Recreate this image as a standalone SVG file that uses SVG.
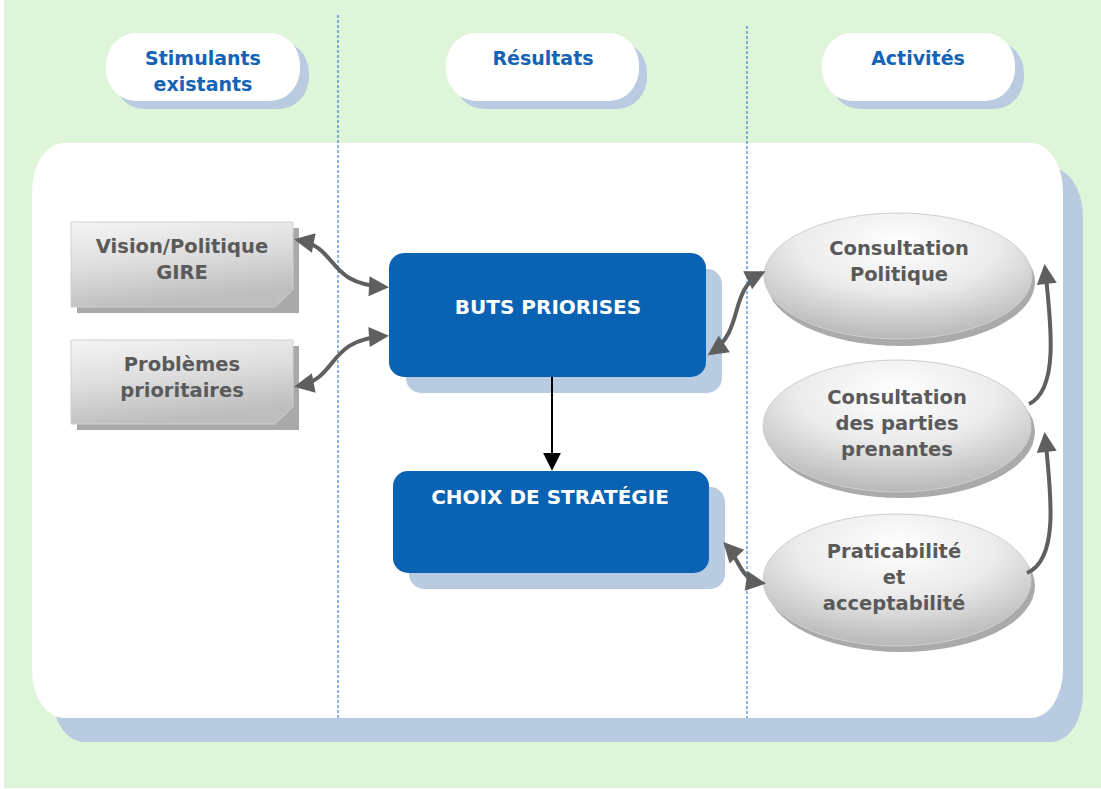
<svg xmlns="http://www.w3.org/2000/svg" width="1101" height="789" viewBox="0 0 1101 789">
<defs>
<linearGradient id="gbox" x1="0" y1="0" x2="0.3" y2="1">
<stop offset="0" stop-color="#f4f4f4"/><stop offset="0.5" stop-color="#dedede"/><stop offset="1" stop-color="#bdbdbd"/>
</linearGradient>
<radialGradient id="gell" cx="0.5" cy="0.25" r="0.75">
<stop offset="0" stop-color="#ffffff"/><stop offset="0.5" stop-color="#ebebeb"/><stop offset="1" stop-color="#b8b8b8"/>
</radialGradient>
<marker id="ah" viewBox="0 0 10 10" refX="8" refY="5" markerWidth="5.5" markerHeight="5" orient="auto-start-reverse" markerUnits="strokeWidth">
<path d="M0,0 L10,5 L0,10 Z" fill="#5f5f5f"/>
</marker>
<marker id="ahb" viewBox="0 0 10 10" refX="9" refY="5" markerWidth="9" markerHeight="9" orient="auto" markerUnits="strokeWidth">
<path d="M0,0 L10,5 L0,10 Z" fill="#000"/>
</marker>
<style>
.hdr{font-family:"DejaVu Sans","Liberation Sans",sans-serif;font-weight:bold;font-size:19px;fill:#1463b4;text-anchor:middle}
.gt{font-family:"DejaVu Sans","Liberation Sans",sans-serif;font-weight:bold;font-size:19.5px;fill:#5a5a5a;text-anchor:middle}
.wt{font-family:"DejaVu Sans","Liberation Sans",sans-serif;font-weight:bold;font-size:20px;fill:#ffffff;text-anchor:middle}
.shadow{fill:#b9cbe1}
.blue{fill:#0a62b3}
.dash{stroke:#1a68c8;stroke-width:1;stroke-dasharray:3,2;fill:none}
.con{stroke:#5f5f5f;stroke-width:4;fill:none}
</style>
</defs>
<rect x="0" y="0" width="1101" height="789" fill="#ffffff"/>
<rect x="4" y="0" width="1097" height="788" fill="#dff5da"/>
<!-- main panel -->
<rect x="52" y="168" width="1031" height="574" rx="32" ry="48" class="shadow"/>
<rect x="32" y="143" width="1031" height="575" rx="32" ry="48" fill="#ffffff"/>
<line x1="338" y1="15" x2="338" y2="718" class="dash"/>
<line x1="747" y1="26" x2="747" y2="718" class="dash"/>
<!-- headers -->
<g id="h1">
<rect x="114" y="41" width="195" height="68" rx="30" ry="32" class="shadow"/>
<rect x="106" y="33" width="194" height="68" rx="30" ry="32" fill="#fff"/>
<text class="hdr" x="203" y="65">Stimulants</text>
<text class="hdr" x="203" y="91">existants</text>
</g>
<g id="h2">
<rect x="454" y="41" width="193" height="68" rx="30" ry="32" class="shadow"/>
<rect x="446" y="33" width="193" height="68" rx="30" ry="32" fill="#fff"/>
<text class="hdr" x="543" y="65">Résultats</text>
</g>
<g id="h3">
<rect x="830" y="41" width="194" height="68" rx="30" ry="32" class="shadow"/>
<rect x="822" y="33" width="193" height="68" rx="30" ry="32" fill="#fff"/>
<text class="hdr" x="918" y="65">Activités</text>
</g>
<!-- left gray boxes -->
<g id="n1">
<path d="M77,228 H299 V313 H77 Z" fill="#a9a9a9"/>
<path d="M71,222 H293 V290 L275,307 H71 Z" fill="url(#gbox)" stroke="#d0d0d0" stroke-width="1"/>
<path d="M275,307 Q279,296 293,290 Q283,294 275,307 Z" fill="#e8e8e8" stroke="#bdbdbd" stroke-width="1"/>
<text class="gt" x="182" y="253">Vision/Politique</text>
<text class="gt" x="182" y="279">GIRE</text>
</g>
<g id="n2">
<path d="M77,346 H299 V430 H77 Z" fill="#a9a9a9"/>
<path d="M71,340 H293 V407 L275,424 H71 Z" fill="url(#gbox)" stroke="#d0d0d0" stroke-width="1"/>
<path d="M275,424 Q279,413 293,407 Q283,411 275,424 Z" fill="#e8e8e8" stroke="#bdbdbd" stroke-width="1"/>
<text class="gt" x="182" y="371">Problèmes</text>
<text class="gt" x="182" y="397">prioritaires</text>
</g>
<!-- blue boxes -->
<g id="n3">
<rect x="406" y="269" width="316" height="124" rx="15" class="shadow"/>
<rect x="389" y="253" width="317" height="124" rx="15" class="blue"/>
<text class="wt" x="548" y="314">BUTS PRIORISES</text>
</g>
<g id="n4">
<rect x="409" y="487" width="316" height="102" rx="15" class="shadow"/>
<rect x="393" y="471" width="316" height="102" rx="15" class="blue"/>
<text class="wt" x="550" y="504">CHOIX DE STRATÉGIE</text>
</g>
<!-- ellipses -->
<g id="n5">
<ellipse cx="901" cy="282" rx="134" ry="64" fill="#aaaaaa"/>
<ellipse cx="898" cy="276" rx="134" ry="63" fill="url(#gell)" stroke="#cfcfcf" stroke-width="1"/>
<text class="gt" x="899" y="255">Consultation</text>
<text class="gt" x="899" y="281">Politique</text>
</g>
<g id="n6">
<ellipse cx="901" cy="432" rx="134" ry="66" fill="#aaaaaa"/>
<ellipse cx="897" cy="426" rx="134" ry="66" fill="url(#gell)" stroke="#cfcfcf" stroke-width="1"/>
<text class="gt" x="897" y="404">Consultation</text>
<text class="gt" x="897" y="430">des parties</text>
<text class="gt" x="897" y="456">prenantes</text>
</g>
<g id="n7">
<ellipse cx="901" cy="586" rx="134" ry="66" fill="#aaaaaa"/>
<ellipse cx="897" cy="580" rx="134" ry="66" fill="url(#gell)" stroke="#cfcfcf" stroke-width="1"/>
<text class="gt" x="894" y="558">Praticabilité</text>
<text class="gt" x="894" y="584">et</text>
<text class="gt" x="894" y="610">acceptabilité</text>
</g>
<!-- connectors -->
<g id="connectors">
<path class="con" d="M298,240 C340,248 325,284 385,287" marker-start="url(#ah)" marker-end="url(#ah)"/>
<path class="con" d="M298,386 C340,378 325,340 385,336" marker-start="url(#ah)" marker-end="url(#ah)"/>
<path class="con" d="M711,353 C745,330 728,290 762,273" marker-start="url(#ah)" marker-end="url(#ah)"/>
<path class="con" d="M726,545 C740,560 740,580 762,583" marker-start="url(#ah)" marker-end="url(#ah)"/>
<path class="con" d="M1027,573 C1058,560 1052,500 1045,436" marker-end="url(#ah)"/>
<path class="con" d="M1029,404 C1058,390 1052,330 1045,268" marker-end="url(#ah)"/>
<line x1="552" y1="377" x2="552" y2="469" stroke="#000" stroke-width="2" marker-end="url(#ahb)"/>
</g>
</svg>
